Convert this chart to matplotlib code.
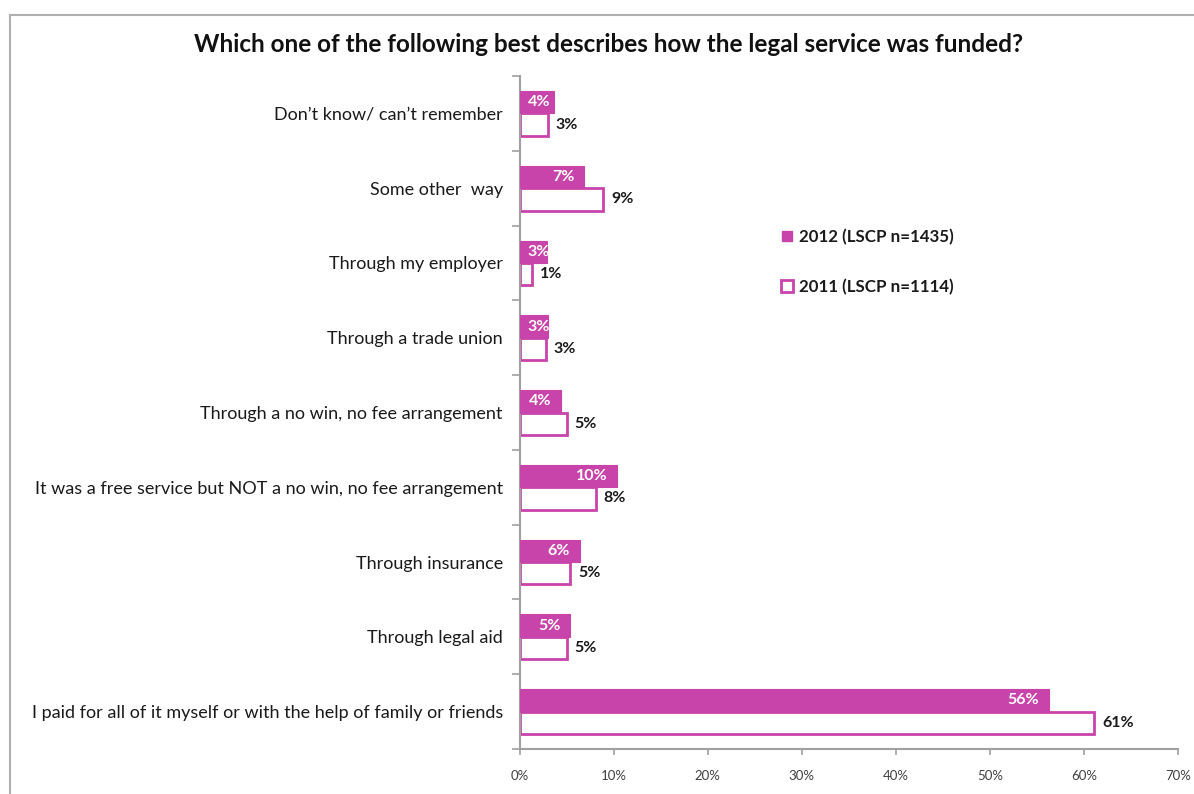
import matplotlib
matplotlib.use("Agg")
import matplotlib.pyplot as plt
from matplotlib.lines import Line2D
import numpy as np

title = "Which one of the following best describes how the legal service was funded?"
categories = [
    "Don\u2019t know/ can\u2019t remember",
    "Some other  way",
    "Through my employer",
    "Through a trade union",
    "Through a no win, no fee arrangement",
    "It was a free service but NOT a no win, no fee arrangement",
    "Through insurance",
    "Through legal aid",
    "I paid for all of it myself or with the help of family or friends",
]
values_2012 = [3.7, 6.9, 2.9, 3.0, 4.4, 10.4, 6.4, 5.4, 56.3]
values_2011 = [3.0, 8.9, 1.3, 2.8, 5.0, 8.1, 5.4, 5.0, 61.1]
series_names = ["2012 (LSCP n=1435)", "2011 (LSCP n=1114)"]
xticks = [0, 10, 20, 30, 40, 50, 60, 70]

PINK = "#C944AA"
AXC = "#A0A0A0"
FONT = "Lato"

plt.rcParams['font.family'] = [FONT, 'DejaVu Sans']

W, H = 1194, 794
fig = plt.figure(figsize=(W / 100, H / 100), dpi=100)
fig.patch.set_facecolor("white")

# outer chart border (top and left visible)
fig.add_artist(Line2D([10 / W, 10 / W], [0, 1 - 15 / H], color="#B0B0B0", lw=1.5, transform=fig.transFigure))
fig.add_artist(Line2D([10 / W, 1], [1 - 15 / H, 1 - 15 / H], color="#B0B0B0", lw=1.5, transform=fig.transFigure))

left, right = 519.5 / W, 1178 / W
bottom, top = 1 - 749 / H, 1 - 76 / H
ax = fig.add_axes([left, bottom, right - left, top - bottom])

n = len(categories)
y = np.arange(n)
bh = 0.30
ax.barh(y - bh / 2, values_2012, height=bh, color=PINK, edgecolor=PINK, linewidth=0.8, zorder=3)
ax.barh(y + bh / 2, values_2011, height=bh, color="white", edgecolor=PINK, linewidth=2.0, zorder=2)

ax.set_xlim(0, 70)
ax.set_ylim(n - 0.5, -0.5)

ax.set_xticks(xticks)
ax.set_xticklabels([f"{t}%" for t in xticks], fontsize=9.5, color="#404040")
ax.set_yticks(y)
ax.set_yticklabels(categories, fontsize=13, color="#1a1a1a")
ax.set_yticks(np.arange(n + 1) - 0.5, minor=True)
ax.tick_params(axis="y", which="major", length=0, pad=12)
ax.tick_params(axis="y", which="minor", length=6, width=1.2, color=AXC, direction="out")
ax.tick_params(axis="x", which="major", length=4, width=1.2, color=AXC, direction="out", pad=11)

for s in ["top", "right"]:
    ax.spines[s].set_visible(False)
for s in ["left", "bottom"]:
    ax.spines[s].set_color(AXC)
    ax.spines[s].set_linewidth(1.5)

# data labels
fig.canvas.draw()
renderer = fig.canvas.get_renderer()
x0_px = ax.transData.transform((0, 0))[0]
for i, v in enumerate(values_2012):
    t = ax.annotate(f"{round(v)}%", xy=(v, i - bh / 2), xytext=(-10, 0), textcoords="offset pixels",
                    ha="right", va="center", fontsize=11.5, fontweight="bold", color="white", zorder=5)
    bb = t.get_window_extent(renderer)
    if bb.x0 < x0_px + 8:
        t.set_ha("left")
        t.xy = (0, i - bh / 2)
        t.set_position((8, 0))
for i, v in enumerate(values_2011):
    ax.annotate(f"{round(v)}%", xy=(v, i + bh / 2), xytext=(8, 0), textcoords="offset pixels",
                ha="left", va="center", fontsize=11.5, fontweight="bold", color="#1a1a1a", zorder=5)

# legend
handles = [
    Line2D([], [], marker="s", markersize=7, markerfacecolor=PINK, markeredgecolor=PINK, linestyle="none"),
    Line2D([], [], marker="s", markersize=9, markerfacecolor="white", markeredgecolor=PINK, markeredgewidth=2, linestyle="none"),
]
leg = fig.legend(handles, series_names, loc="center left", bbox_to_anchor=(772 / W, 1 - 262 / H),
                 frameon=False, prop={"family": FONT, "weight": "bold", "size": 12.2},
                 labelspacing=2.0, handlelength=0.8, handletextpad=0.3, borderpad=0)
for tx in leg.get_texts():
    tx.set_color("#1a1a1a")

fig.text((193 + 1025) / 2 / W, 1 - 45 / H, title, ha="center", va="center",
         fontsize=17.5, fontweight="bold", color="#111111")

fig.savefig("out.png", dpi=100, facecolor="white")
